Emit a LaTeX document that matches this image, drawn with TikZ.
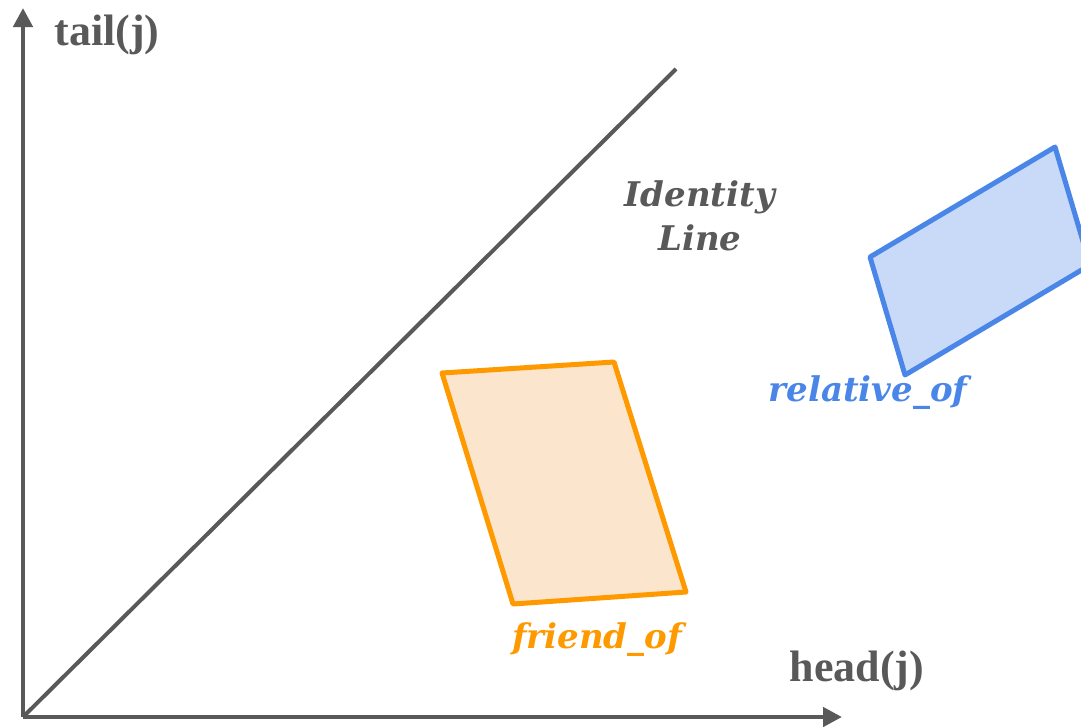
\documentclass[tikz,border=0pt]{standalone}
\usepackage{fontspec}
\setmainfont{Liberation Serif}
\newfontfamily\labelfont{DejaVu Serif}
\usetikzlibrary{arrows.meta}

\definecolor{axisgray}{HTML}{595959}
\definecolor{friendline}{HTML}{FF9900}
\definecolor{friendfill}{HTML}{FCE5CD}
\definecolor{relline}{HTML}{4A86E8}
\definecolor{relfill}{HTML}{C9DAF8}

\tikzset{
	axis/.style={line width=4.5pt, draw=axisgray,
		-{Triangle[length=19pt,width=19pt]}},
	axislabel/.style={text=axisgray, font=\fontsize{44}{48}\selectfont\bfseries},
	regionlabel/.style={font=\fontsize{34}{44}\labelfont\bfseries\itshape},
	region/.style={line width=5pt, line join=round}
}

\begin{document}
\begin{tikzpicture}[x=1pt, y=-1pt]

\useasboundingbox (0,0) rectangle (1081,726);
\clip (0,0) rectangle (1081,726);

% Axes
\coordinate (origin) at (23,717);
\coordinate (ytip) at (23,8);
\coordinate (xtip) at (842,717);
\coordinate (idtop) at (676,69);

\draw[axis] (origin) -- (ytip);
\draw[axis] (origin) -- (xtip);

\node[axislabel] (tail) at (107,35) {tail(j)};
\node[axislabel] (head) at (857,671) {head(j)};

% Identity line
\draw[line width=4pt, draw=axisgray] (origin) -- (idtop);
\node[regionlabel, text=axisgray, align=center] (idlabel) at (700,216)
	{Identity\\Line};

% friend_of region
\filldraw[region, fill=friendfill, draw=friendline]
	(442,373) -- (614,362) -- (686,592) -- (513,604) -- cycle;
\node[regionlabel, text=friendline] (friend) at (597,640) {friend\_of};

% relative_of region
\filldraw[region, fill=relfill, draw=relline]
	(870,257) -- (1055,147) -- (1090,265) -- (905,375) -- cycle;
\node[regionlabel, text=relline] (relative) at (868,393) {relative\_of};

\end{tikzpicture}
\end{document}
